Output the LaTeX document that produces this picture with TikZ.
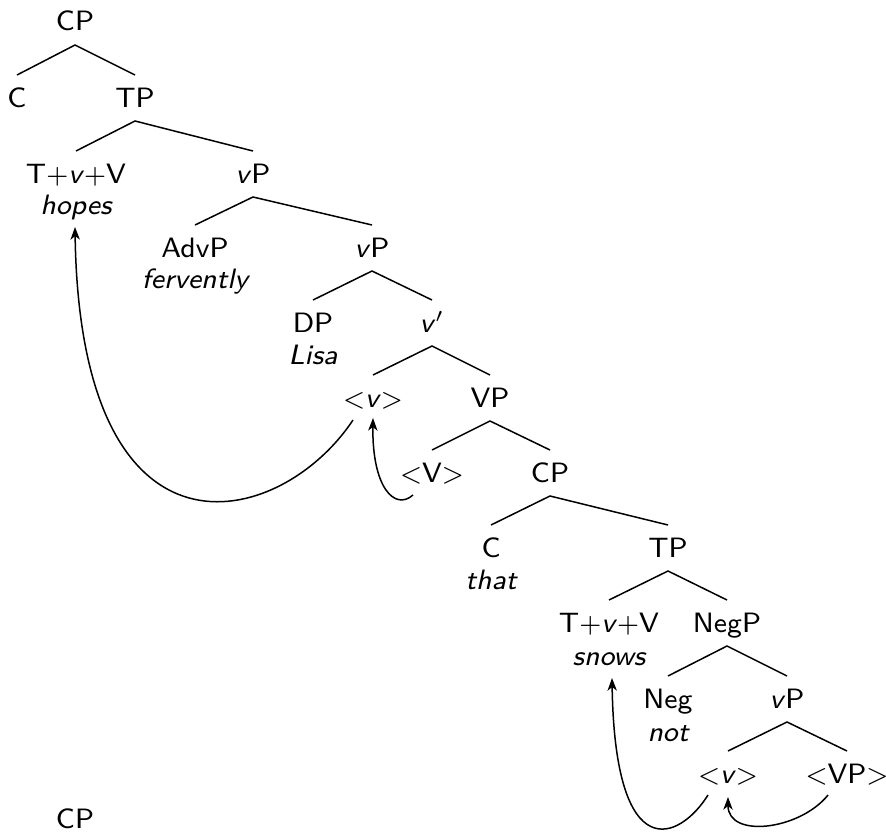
\documentclass[tikz,border=0pt]{standalone}
\usetikzlibrary{arrows.meta,calc}
\begin{document}
\begin{tikzpicture}[x=0.3pt,y=-0.3pt,
  lab/.style={inner sep=0pt, anchor=base, font=\sffamily\fontsize{8.4}{10}\selectfont},
  sub/.style={lab, font=\sffamily\itshape\fontsize{8.4}{10}\selectfont},
  branch/.style={line width=0.45pt},
  mv/.style={line width=0.45pt, -{Stealth[length=3.8pt,width=2.8pt,inset=1.1pt]}}]
\useasboundingbox (0,0) rectangle (886,832);
% nodes
\node[lab] (cpA) at (75,31) {CP};
\node[lab] (cA) at (17,107) {C};
\node[lab] (tpA) at (135,107) {TP};
\node[lab] (tvvA) at (76,183) {T$+$\textit{v}$+$V};
\node[sub] (hopes) at (76,214) {hopes};
\node[lab] (vpA) at (253,183) {\textit{v}P};
\node[lab] (advp) at (195,257) {AdvP};
\node[sub] (ferv) at (195,288) {fervently};
\node[lab] (vpB) at (372,257) {\textit{v}P};
\node[lab] (dp) at (313,332) {DP};
\node[sub] (lisa) at (313,364) {Lisa};
\node[lab] (vbar) at (432,332) {\textit{v}$'$};
\node[lab] (vtA) at (373,407) {$<$\textit{v}$>$};
\node[lab] (vpC) at (490,407) {VP};
\node[lab] (Vt) at (432,482) {$<$V$>$};
\node[lab] (cpB) at (550,482) {CP};
\node[lab] (cB) at (491,557) {C};
\node[sub] (that) at (491,589) {that};
\node[lab] (tpB) at (668,557) {TP};
\node[lab] (tvvB) at (609,632) {T$+$\textit{v}$+$V};
\node[sub] (snows) at (609,665) {snows};
\node[lab] (negp) at (727,632) {NegP};
\node[lab] (neg) at (668,708) {Neg};
\node[sub] (not) at (668,741) {not};
\node[lab] (vpD) at (787,708) {\textit{v}P};
\node[lab] (vtB) at (728,783) {$<$\textit{v}$>$};
\node[lab] (vpt) at (847,783) {$<$VP$>$};
\node[lab] (cpC) at (75,828) {CP};
% branches
\foreach \p/\a/\b in {cpA/cA/tpA, tpA/tvvA/vpA, vpA/advp/vpB, vpB/dp/vbar, vbar/vtA/vpC, vpC/Vt/cpB, cpB/cB/tpB, tpB/tvvB/negp, negp/neg/vpD, vpD/vtB/vpt}{
  \draw[branch] ($(\a.base)+(0,-32)$) -- ($(\p.base)+(0,14)$) -- ($(\b.base)+(0,-32)$);
}
% movement arrows
\draw[mv] ($(vtA.base)+(-20,13)$) .. controls +(-73,110) and +(5,352) .. ($(hopes.base)+(-1,13)$);
\draw[mv] ($(Vt.base)+(-19,13)$) .. controls +(-18,16) and +(-1,70) .. ($(vtA.base)+(0,11)$);
\draw[mv] ($(vtB.base)+(-20,12)$) .. controls +(-28,45) and +(3,192) .. ($(snows.base)+(3,13)$);
\draw[mv] ($(vpt.base)+(-19,12)$) .. controls +(-28,35) and +(0,42) .. ($(vtB.base)+(0,14)$);
\end{tikzpicture}
\end{document}
